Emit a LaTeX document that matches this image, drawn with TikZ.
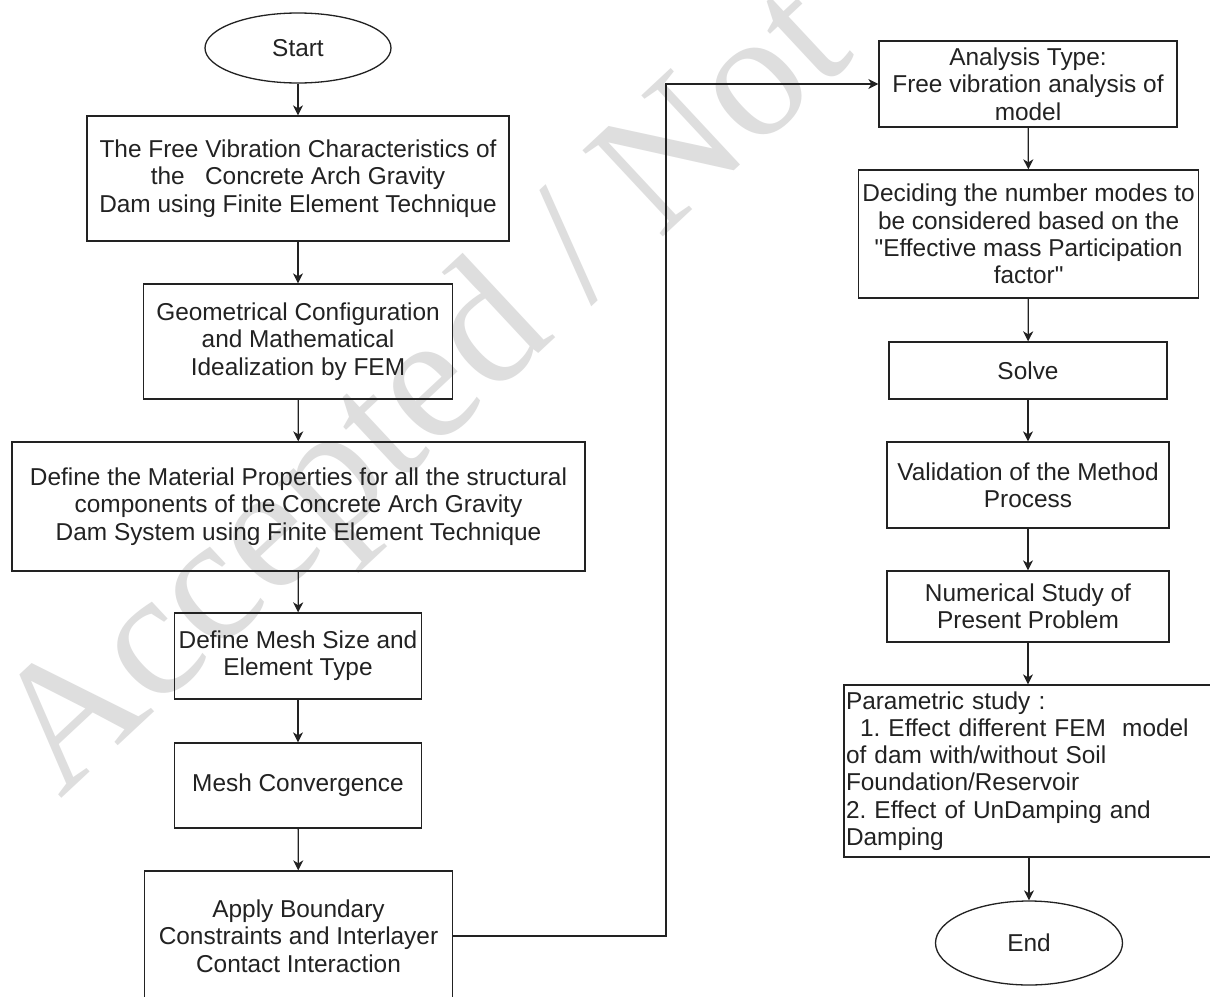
\documentclass[tikz,border=0pt]{standalone}
\usepackage{fontspec}
\setmainfont{Liberation Sans}
\newfontfamily\wmfont{Liberation Serif}
\font\qtfont="Liberation Sans" at 24.4pt
\newcommand{\sq}{{\qtfont\char34}}
\usetikzlibrary{shapes.geometric,arrows.meta}
\definecolor{ink}{RGB}{34,34,34}
\definecolor{wmgray}{RGB}{222,222,222}
\frenchspacing
\tikzset{
  stepbox/.style={draw=ink, line width=1.3pt, rectangle, inner sep=0pt, align=center, text=ink},
  termbox/.style={draw=ink, line width=1.3pt, ellipse, inner sep=0pt, text=ink},
  arr/.style={draw=ink, line width=1.3pt, -{Stealth[length=10pt,width=10pt,inset=3pt]}},
  plainline/.style={draw=ink, line width=1.3pt}
}
\begin{document}
\begin{tikzpicture}[x=1pt,y=-1pt]
\path[use as bounding box] (0,0) rectangle (1210,996);
\clip (0,0) rectangle (1210,996);
\fill[white] (0,0) rectangle (1210,996);
% watermark
\node[rotate=43, anchor=base west, inner sep=0pt, text=wmgray, font={\wmfont\fontsize{180}{180}\selectfont}] (wm) at (60,800) {Accepted / Not};
\fontsize{24.4}{27.3}\selectfont
% left column
\node[termbox, minimum width=186pt, minimum height=70pt] (start) at (298,48) {Start};
\node[stepbox, minimum width=422pt, minimum height=125pt] (b1) at (298,178.5)
  {The Free Vibration Characteristics of\\ the\ \ \ Concrete Arch Gravity\\ Dam using Finite Element Technique};
\node[stepbox, minimum width=309pt, minimum height=115pt] (b2) at (298,341.5)
  {Geometrical Configuration\\ and Mathematical\\ Idealization by FEM};
\node[stepbox, minimum width=573pt, minimum height=129pt] (b3) at (298.5,506.5)
  {Define the Material Properties for all the structural\\ components of the Concrete Arch Gravity\\ Dam System using Finite Element Technique};
\node[stepbox, minimum width=247pt, minimum height=86pt] (b4) at (298,656)
  {Define Mesh Size and\\ Element Type};
\node[stepbox, minimum width=247pt, minimum height=85pt] (b5) at (298,785.5)
  {Mesh Convergence};
\node[stepbox, minimum width=308pt, minimum height=130pt] (b6) at (298.5,936)
  {Apply Boundary\\ Constraints and Interlayer\\ Contact Interaction};
% right column
\node[stepbox, minimum width=298pt, minimum height=86pt] (b7) at (1028,84)
  {Analysis Type:\\ Free vibration analysis of\\ model};
\node[stepbox, minimum width=340pt, minimum height=128pt] (b8) at (1028.6,234)
  {Deciding the number modes to\\ be considered based on the\\ \sq Effective mass Participation\\ factor\sq};
\node[stepbox, minimum width=278pt, minimum height=57pt] (b9) at (1028,370.5)
  {Solve};
\node[stepbox, minimum width=282pt, minimum height=86pt] (b10) at (1028,485)
  {Validation of the Method\\ Process};
\node[stepbox, minimum width=282pt, minimum height=71pt] (b11) at (1028,606.5)
  {Numerical Study of\\ Present Problem};
\node[stepbox, minimum width=368pt, minimum height=172pt, align=left, text width=364pt, inner xsep=2pt] (b12) at (1028,771)
  {Parametric study :\\ \hspace*{14pt}1. Effect different FEM\ \ model\\ of dam with/without Soil\\ Foundation/Reservoir\\ 2. Effect of UnDamping and\\ Damping};
\node[termbox, minimum width=187pt, minimum height=84pt] (end) at (1029,943) {End};
% connectors
\draw[arr] (start) -- (b1);
\draw[arr] (b1) -- (b2);
\draw[arr] (b2) -- (b3);
\draw[arr] (b3) -- (b4);
\draw[arr] (b4) -- (b5);
\draw[arr] (b5) -- (b6);
\coordinate (bend) at (666,84);
\draw[arr] (b6.east) -| (bend) -- (b7.west);
\draw[arr] (b7) -- (b8);
\draw[arr] (b8) -- (b9);
\draw[arr] (b9) -- (b10);
\draw[arr] (b10) -- (b11);
\draw[arr] (b11) -- (b12);
\draw[arr] (b12.south -| end) -- (end);
\end{tikzpicture}
\end{document}
